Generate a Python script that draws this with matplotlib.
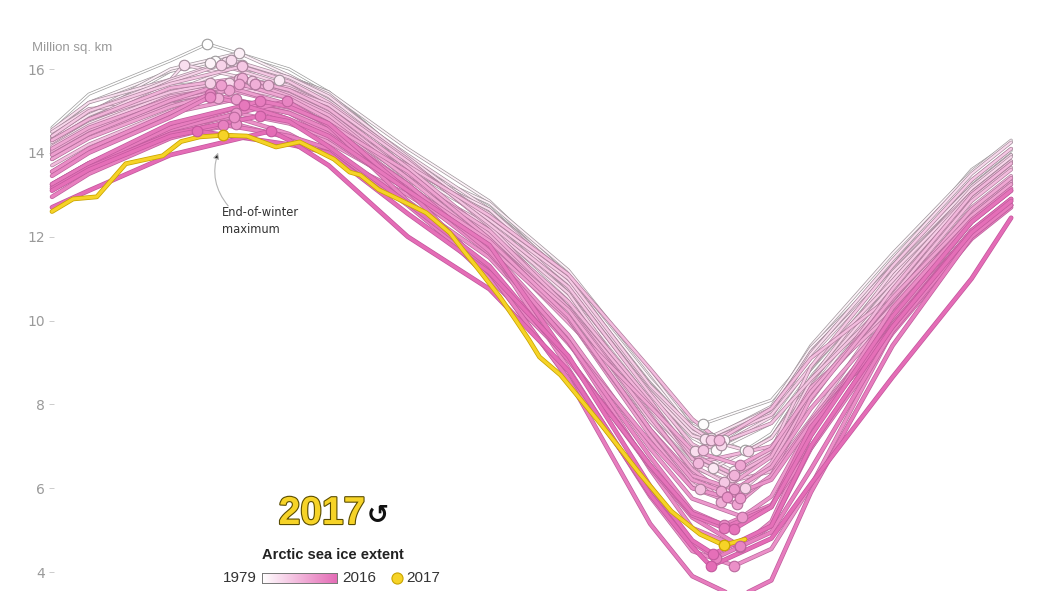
import matplotlib
matplotlib.use('Agg')
import matplotlib.pyplot as plt
import matplotlib.patheffects as pe
from matplotlib.colors import LinearSegmentedColormap
import numpy as np

# Arctic sea ice extent, million sq. km
years = list(range(1979, 2017))

# day of year of the stored points: Jan1, Jan15, Feb15, Apr1, Apr15, May15, Jun15,
# Jul15, Aug15, Sep1, Oct1, Oct15, Nov15, Dec15, Dec31
fixed_days = [0, 14, 45, 90, 105, 135, 166, 196, 227, 243, 273, 288, 319, 349, 364]

extent = [
    [14.6, 15.4, 16.2, 16.0, 15.45, 13.85, 12.7, 11.0, 8.5, 7.4, 7.3, 8.75, 10.95, 13.3, 14.05],      # 1979
    [14.3, 14.85, 15.95, 15.8, 15.45, 13.8, 12.4, 10.8, 8.45, 7.6, 8.1, 9.2, 11.4, 13.6, 14.25],      # 1980
    [14.35, 14.9, 15.6, 15.4, 15.0, 13.8, 12.65, 11.1, 8.3, 7.2, 7.55, 8.85, 11.2, 13.2, 13.95],      # 1981
    [14.5, 15.2, 15.95, 15.8, 15.45, 14.1, 12.85, 11.05, 8.6, 7.5, 7.9, 9.4, 11.6, 13.55, 14.3],      # 1982
    [14.4, 14.95, 16.0, 15.85, 15.35, 13.7, 12.8, 11.2, 8.75, 7.45, 7.95, 9.35, 11.3, 13.35, 14.1],   # 1983
    [13.95, 14.45, 15.3, 15.7, 15.1, 13.55, 12.4, 10.65, 8.2, 6.9, 6.95, 8.35, 10.8, 13.0, 13.75],    # 1984
    [14.2, 14.7, 15.45, 15.8, 15.4, 13.85, 12.3, 10.55, 7.7, 6.7, 7.2, 8.6, 10.7, 13.0, 13.75],       # 1985
    [14.35, 14.9, 15.7, 15.75, 15.25, 13.95, 12.65, 11.05, 8.4, 7.3, 7.9, 9.15, 11.25, 13.2, 13.95],  # 1986
    [14.55, 15.2, 15.75, 15.55, 15.05, 13.6, 12.65, 10.95, 8.45, 6.95, 7.8, 9.25, 11.3, 13.2, 13.95], # 1987
    [14.4, 15.0, 15.75, 15.8, 15.35, 13.9, 12.45, 10.9, 8.4, 7.35, 7.7, 9.2, 11.45, 13.5, 14.25],     # 1988
    [14.5, 15.05, 15.2, 15.35, 15.0, 13.65, 12.55, 10.75, 8.3, 7.25, 7.2, 8.5, 11.05, 13.15, 13.9],   # 1989
    [14.25, 14.8, 15.7, 15.6, 15.1, 13.45, 12.1, 10.1, 7.6, 6.5, 6.55, 8.6, 11.15, 13.05, 13.8],      # 1990
    [14.1, 14.6, 15.35, 15.3, 14.9, 13.35, 12.25, 10.65, 7.9, 6.7, 6.8, 8.55, 10.85, 12.9, 13.65],    # 1991
    [14.15, 14.65, 15.4, 15.55, 15.15, 13.8, 12.4, 11.0, 8.45, 7.45, 7.75, 8.9, 10.95, 13.05, 13.8],  # 1992
    [14.4, 15.0, 15.65, 15.7, 15.2, 13.85, 12.25, 10.3, 7.6, 6.55, 6.9, 8.9, 11.3, 13.35, 14.1],      # 1993
    [14.3, 14.8, 15.45, 15.5, 15.15, 13.8, 12.3, 10.8, 8.25, 7.05, 7.55, 8.6, 10.55, 13.0, 13.75],    # 1994
    [14.05, 14.55, 15.25, 15.25, 14.65, 13.45, 11.8, 10.05, 7.4, 6.1, 6.4, 7.65, 10.45, 12.7, 13.45], # 1995
    [13.7, 14.2, 15.0, 15.05, 14.75, 13.7, 12.5, 11.1, 8.85, 7.65, 7.9, 9.1, 10.6, 12.85, 13.6],      # 1996
    [14.0, 14.5, 15.35, 15.4, 14.95, 13.5, 12.1, 10.45, 8.1, 6.7, 7.0, 8.1, 10.75, 13.0, 13.75],      # 1997
    [14.3, 14.8, 15.55, 15.5, 15.05, 13.65, 12.05, 10.3, 8.0, 6.8, 6.8, 8.25, 10.35, 12.6, 13.35],    # 1998
    [14.05, 14.55, 15.25, 15.35, 14.9, 13.4, 12.15, 10.3, 7.75, 6.4, 6.6, 8.2, 10.5, 12.55, 13.3],    # 1999
    [13.85, 14.4, 15.15, 15.0, 14.6, 13.2, 11.9, 10.25, 7.7, 6.45, 6.75, 8.4, 10.2, 12.5, 13.25],     # 2000
    [14.1, 14.6, 15.3, 15.3, 14.8, 13.4, 11.85, 9.95, 7.95, 6.9, 6.95, 8.3, 10.5, 12.65, 13.4],       # 2001
    [13.85, 14.35, 15.1, 15.15, 14.7, 13.55, 11.95, 10.05, 7.25, 6.0, 6.3, 8.15, 10.55, 12.5, 13.25], # 2002
    [13.95, 14.45, 15.25, 15.15, 14.65, 13.25, 11.75, 10.05, 7.4, 6.3, 6.5, 7.9, 10.15, 12.35, 13.1], # 2003
    [13.55, 14.05, 14.95, 14.8, 14.25, 13.2, 11.9, 10.1, 7.4, 6.2, 6.3, 7.6, 10.0, 12.35, 13.1],      # 2004
    [13.15, 13.65, 14.45, 14.7, 14.35, 13.1, 11.7, 9.65, 6.95, 5.75, 5.8, 7.5, 10.05, 12.1, 12.85],   # 2005
    [13.1, 13.6, 14.4, 14.35, 14.0, 12.85, 11.5, 9.45, 7.1, 6.0, 6.2, 7.55, 9.75, 12.0, 12.75],       # 2006
    [13.25, 13.75, 14.6, 14.45, 13.95, 13.0, 11.75, 8.85, 5.8, 4.5, 4.55, 6.05, 9.75, 12.0, 12.75],   # 2007
    [13.55, 14.1, 14.95, 14.95, 14.45, 13.1, 11.6, 9.5, 6.45, 5.05, 5.2, 7.25, 10.3, 12.4, 13.15],    # 2008
    [13.45, 14.0, 14.85, 14.95, 14.55, 13.25, 11.65, 9.5, 6.75, 5.45, 5.6, 6.95, 9.9, 12.15, 12.9],   # 2009
    [13.25, 13.75, 14.55, 15.2, 14.65, 12.85, 11.0, 9.1, 6.5, 5.3, 5.1, 6.95, 9.7, 11.95, 12.7],      # 2010
    [12.95, 13.5, 14.35, 14.4, 14.1, 12.75, 11.15, 8.6, 5.95, 4.7, 4.95, 6.45, 9.75, 12.0, 12.75],    # 2011
    [13.2, 13.7, 14.6, 15.1, 14.7, 13.1, 11.15, 8.6, 5.15, 3.9, 3.8, 5.9, 9.4, 12.0, 12.75],          # 2012
    [13.25, 13.75, 14.7, 14.8, 14.4, 13.1, 11.8, 9.1, 6.55, 5.35, 5.55, 7.45, 9.85, 12.15, 12.9],     # 2013
    [13.15, 13.65, 14.45, 14.75, 14.15, 12.8, 11.3, 9.05, 6.55, 5.4, 5.55, 7.25, 10.1, 12.35, 13.1],  # 2014
    [13.1, 13.6, 14.4, 14.2, 14.0, 12.55, 11.15, 9.15, 6.05, 4.75, 5.1, 7.0, 9.85, 12.1, 12.85],      # 2015
    [12.7, 13.1, 13.95, 14.3, 13.7, 12.0, 10.75, 8.8, 5.85, 4.6, 4.8, 6.1, 8.65, 11.0, 12.45],        # 2016
]

# end-of-winter maximum and end-of-summer minimum (day of year, value)
max_day = [59, 62, 71, 60, 71, 86, 72, 66, 50, 68, 67, 64, 60, 76, 72, 71, 82, 61, 77,
           72, 77, 63, 71, 67, 64, 70, 70, 70, 69, 60, 60, 89, 65, 79, 73, 79, 55, 83]
max_val = [16.6, 16.2, 15.75, 16.15, 16.38, 15.73, 16.1, 16.16, 16.1, 16.22, 15.67, 16.1,
           15.67, 15.71, 16.06, 15.77, 15.61, 15.35, 15.64, 15.79, 15.64, 15.3, 15.65,
           15.51, 15.62, 15.28, 14.95, 14.68, 14.86, 15.41, 15.34, 15.23, 14.67, 15.24,
           15.13, 14.88, 14.52, 14.52]
min_day = [263, 247, 252, 255, 250, 259, 251, 248, 244, 254, 264, 263, 258, 250, 255, 247,
           246, 253, 245, 259, 254, 254, 261, 260, 259, 261, 262, 256, 259, 261, 255, 261,
           252, 260, 255, 259, 251, 250]
min_val = [6.9, 7.53, 6.9, 7.16, 7.2, 6.4, 6.48, 7.17, 6.89, 7.04, 6.89, 6.01, 6.26, 7.16,
           6.15, 6.92, 5.99, 7.15, 6.61, 6.32, 5.68, 5.94, 6.55, 5.62, 5.97, 5.77, 5.32,
           5.78, 4.15, 4.59, 5.12, 4.62, 4.34, 3.39, 5.05, 5.03, 4.43, 4.14]

# 2017 so far
days_2017 = [0, 8, 17, 23, 28, 42, 49, 56, 65, 74, 85, 94, 107, 113, 117, 124, 132, 142,
             151, 156, 162, 170, 176, 181, 185, 193, 208, 223, 235, 246, 255, 263]
vals_2017 = [12.6, 12.9, 12.95, 13.38, 13.74, 13.93, 14.27, 14.38, 14.42, 14.4, 14.14,
             14.26, 13.85, 13.54, 13.47, 13.12, 12.88, 12.57, 12.09, 11.68, 11.21, 10.56,
             10.01, 9.54, 9.13, 8.7, 7.55, 6.35, 5.45, 4.9, 4.64, 4.78]
max_2017 = (65, 14.42)
min_2017 = (255, 4.64)

yticks = [4, 6, 8, 10, 12, 14, 16]

# figure geometry (pixels)
W, H = 1044, 591
X0, PX_DAY = 52, 2.635
Y4, PX_UNIT = 572, 503 / 12.0

PINK = '#e46cb6'
YELLOW = '#f6d327'
YEDGE = '#c9a400'

fill_cmap = LinearSegmentedColormap.from_list('ice', ['#ffffff', PINK])
edge_cmap = LinearSegmentedColormap.from_list('edge', ['#9c9c9c', '#c3579d'])

fig = plt.figure(figsize=(W / 100, H / 100), dpi=100)
ax = fig.add_axes([0, 0, 1, 1])
ax.set_facecolor('none')
ax.set_xlim(-X0 / PX_DAY, (W - X0) / PX_DAY)
ax.set_ylim(4 - (H - Y4) / PX_UNIT, 4 + Y4 / PX_UNIT)

for s in ax.spines.values():
    s.set_visible(False)
ax.spines['left'].set_position(('axes', 54 / W))
ax.set_xticks([])
ax.set_yticks(yticks)
ax.set_yticklabels([str(t) for t in yticks])
ax.tick_params(axis='y', direction='out', length=3.6, width=0.7, color='#cccccc',
               labelcolor='#9a9a9a', labelsize=10, pad=3)

n = len(years)
for i, yr in enumerate(years):
    t = i / (n - 1)
    fc = fill_cmap(t)
    ec = edge_cmap(t)
    lw = 1.2 + 1.2 * t
    pts = sorted(zip(fixed_days + [max_day[i], min_day[i]],
                     extent[i] + [max_val[i], min_val[i]]))
    xs = [p[0] for p in pts]
    ys = [p[1] for p in pts]
    ax.plot(xs, ys, color=fc, lw=lw, solid_capstyle='round', solid_joinstyle='round',
            path_effects=[pe.Stroke(linewidth=lw + 1.0, foreground=ec), pe.Normal()],
            zorder=2 + i * 0.01)

ax.plot(days_2017, vals_2017, color=YELLOW, lw=2.3, solid_capstyle='round',
        solid_joinstyle='round',
        path_effects=[pe.Stroke(linewidth=3.4, foreground=YEDGE), pe.Normal()], zorder=3)

for i, yr in enumerate(years):
    t = i / (n - 1)
    fc = fill_cmap(t)
    ec = edge_cmap(t)
    ax.plot([max_day[i], min_day[i]], [max_val[i], min_val[i]], 'o', ms=7.6, mfc=fc,
            mec=ec, mew=0.8, zorder=4 + i * 0.01)
ax.plot([max_2017[0], min_2017[0]], [max_2017[1], min_2017[1]], 'o', ms=7.6, mfc=YELLOW,
        mec=YEDGE, mew=0.9, zorder=5)

# annotation
def px2day(px):
    return (px - X0) / PX_DAY

def py2val(py):
    return 4 + (Y4 - py) / PX_UNIT

ax.annotate('', xy=(px2day(219), py2val(150)), xytext=(px2day(230), py2val(208)),
            arrowprops=dict(arrowstyle='-|>', ec='#b5b5b5', fc='#222222', lw=0.8,
                            mutation_scale=9, connectionstyle='arc3,rad=-0.3'),
            zorder=6)
ax.text(px2day(222), py2val(221), 'End-of-winter\nmaximum', fontsize=8.3,
        family='DejaVu Sans', color='#333333', va='center', ha='left', linespacing=1.45)

FONT = 'Liberation Sans'
fig.text(32 / W, 1 - 48 / H, 'Million sq. km', fontsize=9.5, color='#9a9a9a',
         family=FONT, ha='left', va='center')

# year label
fig.text(322 / W, 1 - 514 / H, '2017', fontsize=28, fontweight='bold', color=YELLOW,
         family=FONT, ha='center', va='center',
         path_effects=[pe.Stroke(linewidth=1.6, foreground='#5a4c00'), pe.Normal()])
fig.text(378 / W, 1 - 516 / H, '\u21ba', fontsize=19, fontweight='bold', color='#111111',
         family='DejaVu Sans', ha='center', va='center')

# legend
fig.text(333 / W, 1 - 555 / H, 'Arctic sea ice extent', fontsize=10.5, fontweight='bold',
         color='#222222', family=FONT, ha='center', va='center')
fig.text(257 / W, 1 - 578 / H, '1979', fontsize=11, color='#333333', family=FONT,
         ha='right', va='center')
fig.text(342 / W, 1 - 578 / H, '2016', fontsize=11, color='#333333', family=FONT,
         ha='left', va='center')
fig.text(406 / W, 1 - 578 / H, '2017', fontsize=11, color='#333333', family=FONT,
         ha='left', va='center')

cax = fig.add_axes([262 / W, 1 - 583 / H, 75 / W, 10 / H])
cax.imshow(np.linspace(0, 1, 200)[None, :], cmap=fill_cmap, aspect='auto')
cax.set_xticks([])
cax.set_yticks([])
for s in cax.spines.values():
    s.set_color('#777777')
    s.set_linewidth(0.7)

ax.plot([px2day(397)], [py2val(578)], 'o', ms=8, mfc=YELLOW, mec=YEDGE, mew=0.8,
        clip_on=False, zorder=6)

fig.savefig('out.png', dpi=100)
